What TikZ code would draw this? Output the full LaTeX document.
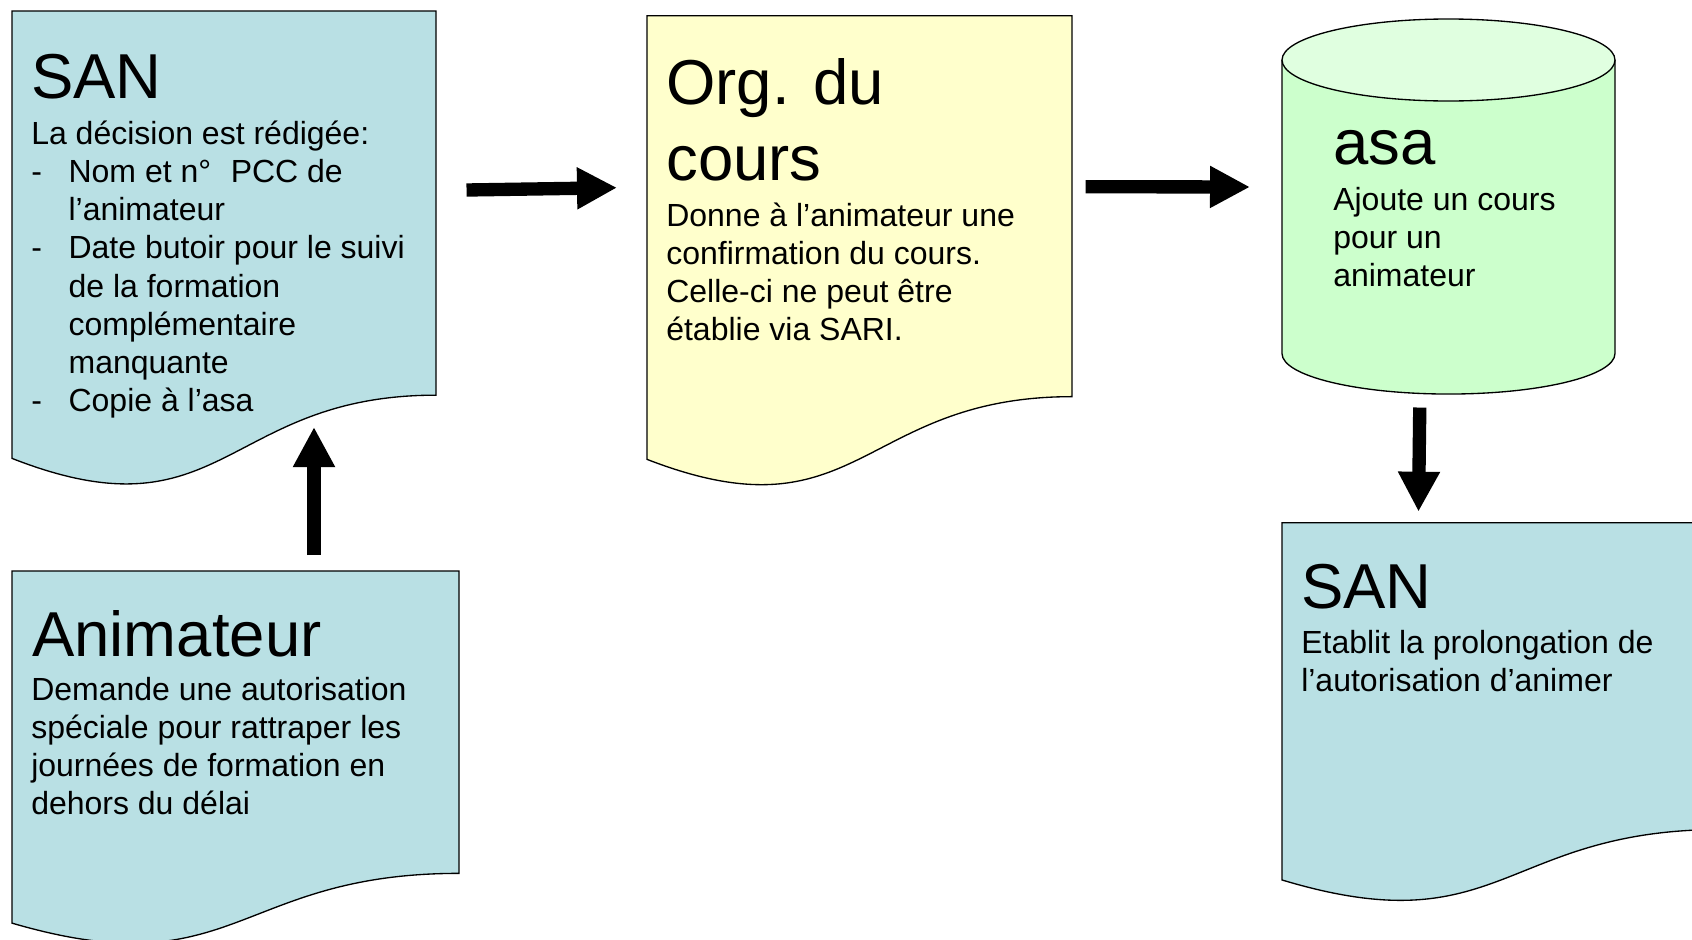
\documentclass[tikz,border=0pt]{standalone}
\usepackage{fontspec}
\setmainfont{Liberation Sans}
\usetikzlibrary{arrows.meta,calc}
\definecolor{docblue}{RGB}{185,224,228}
\definecolor{docyellow}{RGB}{255,255,204}
\definecolor{cylgreen}{RGB}{204,255,204}
\definecolor{cyltop}{RGB}{224,255,224}
\newcommand\docbox[6]{%
  \node[inner sep=0pt, minimum width={#5*0.75pt}, minimum height={#6*0.75pt}, anchor=north west] (#1) at (#3,#4) {};
  \draw[docline, fill=#2] (#3,#4) -- ({#3+#5},#4) -- ({#3+#5},{#4+0.802*#6})
    .. controls ({#3+0.5*#5},{#4+0.802*#6}) and ({#3+0.5*#5},{#4+1.1075*#6}) .. (#3,{#4+0.934*#6}) -- cycle;
}
\newcommand\titlefont{\fontsize{47.6}{57}\selectfont}
\newcommand\bodyfont{\fontsize{24}{28.7}\selectfont}
\begin{document}
\begin{tikzpicture}[x=0.75pt,y=-0.75pt,
  docline/.style={draw=black, line width=1pt},
  titletext/.style={inner sep=0pt, anchor=base west, font=\titlefont},
  bodytext/.style={inner sep=0pt, anchor=base west, font=\bodyfont},
  bigarrow/.style={line width=10pt, -{Triangle[length=30pt,width=29.5pt]}}]
\fill[white] (0,0) rectangle (1692,939);
\useasboundingbox (0,0) rectangle (1692,939);

% document shapes
\docbox{san1}{docblue}{12}{11}{424}{479}
\docbox{anim}{docblue}{12}{571}{447}{377}
\docbox{org}{docyellow}{647}{15.7}{425}{475}
\docbox{san2}{docblue}{1282}{522.7}{440}{382.5}

% cylinder
\node[inner sep=0pt, minimum width={333*0.75pt}, minimum height={375*0.75pt}, anchor=north west] (asa) at (1282,19) {};
\fill[cylgreen] (1282,60) -- (1282,353.5) arc[start angle=180, end angle=360, x radius=124.875pt, y radius=30.4pt]
  -- (1615,60) arc[start angle=0, end angle=180, x radius=124.875pt, y radius=30.75pt] -- cycle;
\draw[docline] (1282,60) -- (1282,353.5) arc[start angle=180, end angle=360, x radius=124.875pt, y radius=30.4pt] -- (1615,60);
\draw[docline, fill=cyltop] (1448.5,60) ellipse[x radius=124.875pt, y radius=30.75pt];

% texts
\node[titletext] (san1t) at (31,98) {SAN};
\node[bodytext] (san1b) at (31,144) {\parbox[t]{320pt}{\bodyfont
La décision est rédigée:\\
\makebox[28pt][l]{-}Nom et n°\hspace{8pt} PCC de\\
\hspace*{28pt}l’animateur\\
\makebox[28pt][l]{-}Date butoir pour le suivi\\
\hspace*{28pt}de la formation\\
\hspace*{28pt}complémentaire\\
\hspace*{28pt}manquante\\
\makebox[28pt][l]{-}Copie à l’asa}};

\node[titletext] (animt) at (32,656) {Animateur};
\node[bodytext] (animb) at (31,700) {\parbox[t]{320pt}{\bodyfont
Demande une autorisation\\
spéciale pour rattraper les\\
journées de formation en\\
dehors du délai}};

\node[titletext] (orgt) at (666,104) {\parbox[t]{320pt}{\titlefont Org. du\\cours}};
\node[bodytext] (orgb) at (666,226) {\parbox[t]{320pt}{\bodyfont
Donne à l’animateur une\\
confirmation du cours.\\
Celle-ci ne peut être\\
établie via SARI.}};

\node[titletext] (asat) at (1333,164) {asa};
\node[bodytext] (asab) at (1333,210) {\parbox[t]{240pt}{\bodyfont
Ajoute un cours\\
pour un\\
animateur}};

\node[titletext] (san2t) at (1301,608) {SAN};
\node[bodytext] (san2b) at (1301,653) {\parbox[t]{320pt}{\bodyfont
Etablit la prolongation de\\
l’autorisation d’animer}};

% connectors
\draw[bigarrow] ([shift={(30,179)}]san1.north east) -- ([shift={(-30,172)}]org.north west);
\draw[bigarrow] ([shift={(13,171)}]org.north east) -- ([shift={(-32,168)}]asa.north west);
\draw[bigarrow] ([shift={(-29,13)}]asa.south) -- ([shift={(136.5,-11)}]san2.north west);
\draw[bigarrow] ([shift={(302,-16)}]anim.north west) -- ([shift={(302,416)}]san1.north west);
\end{tikzpicture}
\end{document}
